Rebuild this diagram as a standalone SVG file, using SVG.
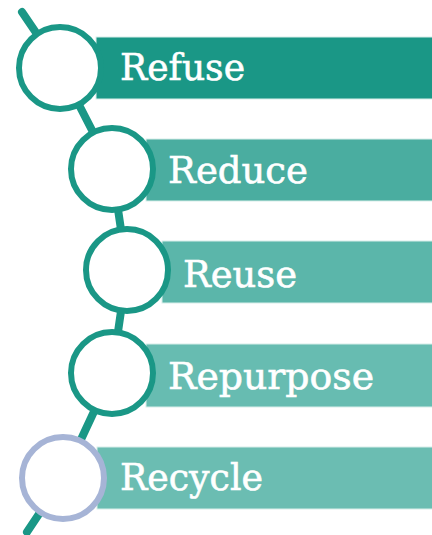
<svg xmlns="http://www.w3.org/2000/svg" width="432" height="535" viewBox="0 0 432 535">
<style>
.bar{stroke:#d8eeea;stroke-width:1}
.ring{fill:#ffffff;stroke:#1a9786;stroke-width:6}
.lbl{font-family:"DejaVu Serif","Liberation Serif",serif;font-size:38px;fill:#ffffff;stroke:#ffffff;stroke-width:0.6}
</style>
<rect width="432" height="535" fill="#ffffff"/>
<g id="connectors">
<polyline points="22,12 60,68 112,169 127,270 112,373 63,478 27,532" fill="none" stroke="#1a9786" stroke-width="8" stroke-linecap="round" stroke-linejoin="round"/>
</g>
<g id="refuse">
<rect class="bar" x="96" y="37" width="340" height="62" fill="#1a9786"/>
<circle class="ring" cx="60" cy="68" r="41"/>
<text class="lbl" x="120" y="80" textLength="125" lengthAdjust="spacingAndGlyphs">Refuse</text>
</g>
<g id="reduce">
<rect class="bar" x="146" y="139" width="290" height="62" fill="#4aada0"/>
<circle class="ring" cx="112" cy="169" r="41"/>
<text class="lbl" x="168" y="183" textLength="140" lengthAdjust="spacingAndGlyphs">Reduce</text>
</g>
<g id="reuse">
<rect class="bar" x="162" y="241" width="274" height="62" fill="#5bb6aa"/>
<circle class="ring" cx="127" cy="270" r="41"/>
<text class="lbl" x="183" y="287" textLength="114" lengthAdjust="spacingAndGlyphs">Reuse</text>
</g>
<g id="repurpose">
<rect class="bar" x="146" y="344" width="290" height="63" fill="#67bcb1"/>
<circle class="ring" cx="112" cy="373" r="41"/>
<text class="lbl" x="168" y="389" textLength="206" lengthAdjust="spacingAndGlyphs">Repurpose</text>
</g>
<g id="recycle">
<rect class="bar" x="97" y="447" width="339" height="62" fill="#6bbdb2"/>
<circle class="ring" cx="63" cy="478" r="41" style="stroke:#a6b4d6"/>
<text class="lbl" x="120" y="490" textLength="143" lengthAdjust="spacingAndGlyphs">Recycle</text>
</g>
</svg>
